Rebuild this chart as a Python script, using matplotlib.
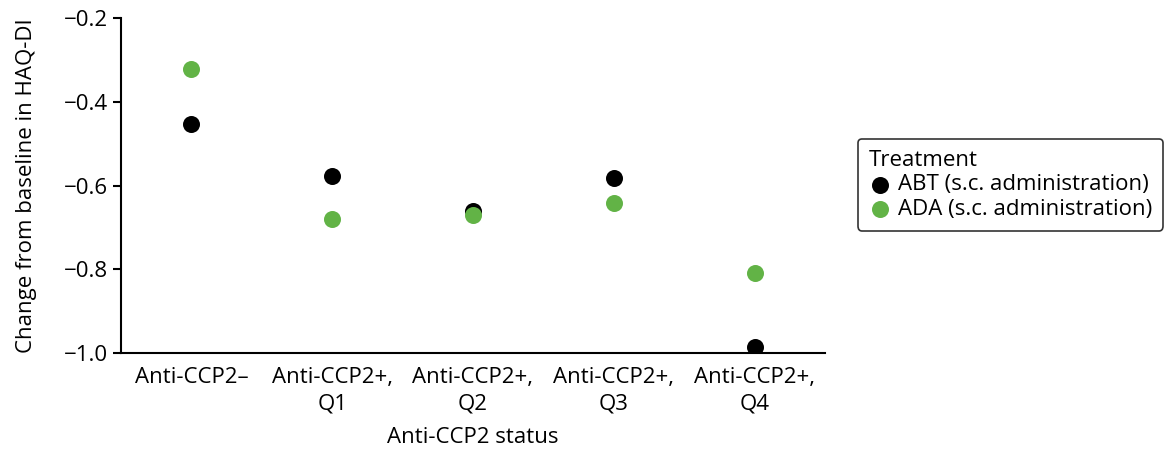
import matplotlib
matplotlib.use("Agg")
import matplotlib.pyplot as plt

categories = ["Anti-CCP2\u2013", "Anti-CCP2+,\nQ1", "Anti-CCP2+,\nQ2", "Anti-CCP2+,\nQ3", "Anti-CCP2+,\nQ4"]
abt_values = [-0.452, -0.577, -0.661, -0.581, -0.987]
ada_values = [-0.322, -0.680, -0.671, -0.643, -0.809]
series_names = ["ABT (s.c. administration)", "ADA (s.c. administration)"]
y_ticks = [-1.0, -0.8, -0.6, -0.4, -0.2]

plt.rcParams['font.family'] = ['Open Sans', 'DejaVu Sans']
FS = 16

fig = plt.figure(figsize=(11.69, 4.5), dpi=100)
ax = fig.add_axes([0.1035, 0.2162, 0.6022, 0.7431])

x = list(range(1, len(categories) + 1))
ax.scatter(x, abt_values, s=150, color="black", label=series_names[0], zorder=3, linewidths=0)
ax.scatter(x, ada_values, s=150, color="#62B346", label=series_names[1], zorder=4, linewidths=0)

ax.set_xlim(0.5, 5.5)
ax.set_ylim(-1.0, -0.2)
ax.set_yticks(y_ticks)
ax.set_yticklabels([f"{v:.1f}".replace("-", "\u2212") for v in y_ticks])
ax.set_xticks(x)
ax.set_xticklabels(categories)
ax.tick_params(axis="x", length=0, pad=10, labelsize=FS)
ax.tick_params(axis="y", length=6, width=1.5, labelsize=FS, pad=3)
for s in ["top", "right"]:
    ax.spines[s].set_visible(False)
for s in ["left", "bottom"]:
    ax.spines[s].set_linewidth(1.5)
for lbl in ax.get_xticklabels():
    lbl.set_linespacing(1.35)

ax.set_xlabel("Anti-CCP2 status", fontsize=FS, labelpad=9)
ax.set_ylabel("Change from baseline in HAQ-DI", fontsize=FS, labelpad=20)

leg = ax.legend(title="Treatment", loc="upper left", bbox_to_anchor=(0.734, 0.691),
                bbox_transform=fig.transFigure,
                fontsize=FS, title_fontsize=FS, frameon=True, fancybox=True,
                edgecolor="black", handletextpad=0.3, borderpad=0.5,
                labelspacing=0.15, handlelength=1.0, markerscale=1.0,
                borderaxespad=0)
leg._legend_box.align = "left"
leg.get_frame().set_linewidth(1.2)

fig.savefig("out.png", dpi=100)
